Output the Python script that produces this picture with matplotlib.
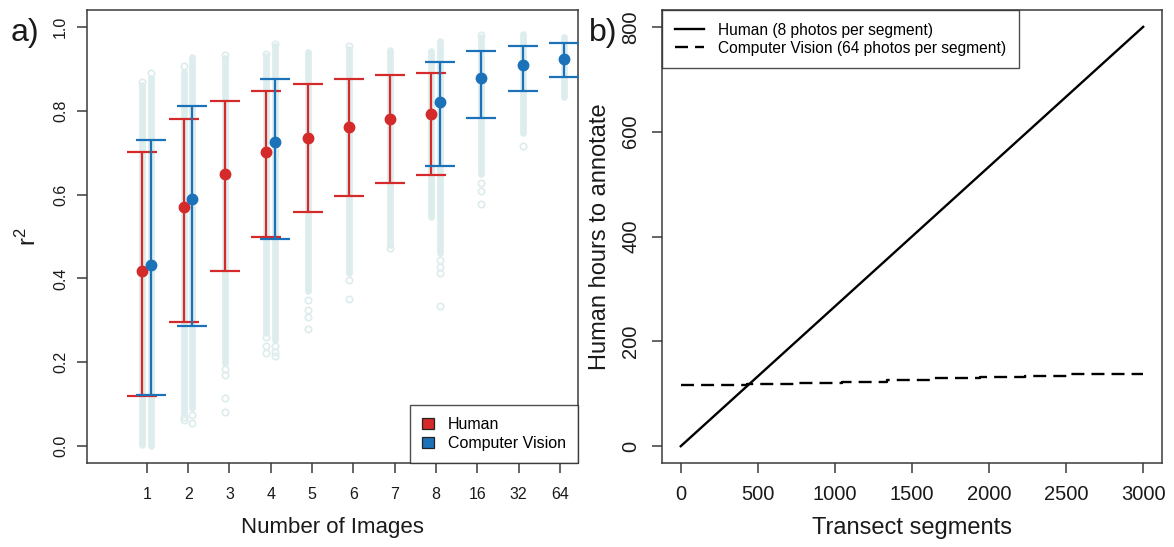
"""
Two-panel figure: r^2 vs number of images (a) and annotation effort (b).
"""

import numpy as np
import matplotlib.pyplot as plt
from matplotlib.patches import Patch
from matplotlib.lines import Line2D

plt.rcParams['font.family'] = ['Liberation Sans', 'DejaVu Sans']

# ==============================================================================
#  DATA
# ==============================================================================
x_labels = ['1', '2', '3', '4', '5', '6', '7', '8', '16', '32', '64']

# --- Human: mean r^2 and interval ---
human_pos = [1, 2, 3, 4, 5, 6, 7, 8]
human_mean = [0.418, 0.571, 0.650, 0.702, 0.736, 0.761, 0.781, 0.793]
human_lo = [0.119, 0.296, 0.418, 0.500, 0.558, 0.597, 0.628, 0.647]
human_hi = [0.701, 0.780, 0.822, 0.848, 0.864, 0.876, 0.885, 0.890]

# --- Computer vision: mean r^2 and interval ---
cv_pos = [1, 2, 4, 8, 9, 10, 11]
cv_mean = [0.432, 0.589, 0.726, 0.820, 0.877, 0.908, 0.924]
cv_lo = [0.123, 0.286, 0.495, 0.669, 0.782, 0.846, 0.880]
cv_hi = [0.730, 0.812, 0.875, 0.915, 0.942, 0.954, 0.961]

# --- background replicate clouds: dense range + isolated points ---
human_cloud_lo = [0.004, 0.079, 0.198, 0.270, 0.369, 0.412, 0.480, 0.547]
human_cloud_hi = [0.862, 0.892, 0.925, 0.930, 0.940, 0.948, 0.944, 0.942]
human_cloud_out = [
    [0.869],
    [0.063, 0.070, 0.907],
    [0.185, 0.170, 0.115, 0.081, 0.932],
    [0.261, 0.238, 0.222, 0.936],
    [0.349, 0.325, 0.309, 0.280],
    [0.396, 0.350, 0.954],
    [0.472],
    [],
]
cv_cloud_lo = [0.000, 0.091, 0.254, 0.460, 0.650, 0.746, 0.833]
cv_cloud_hi = [0.877, 0.927, 0.955, 0.966, 0.975, 0.984, 0.976]
cv_cloud_out = [
    [0.890],
    [0.075, 0.055],
    [0.240, 0.225, 0.214, 0.960],
    [0.444, 0.428, 0.412, 0.335],
    [0.627, 0.609, 0.577, 0.981],
    [0.716],
    [],
]

# --- panel b: hours to annotate vs transect segments ---
human_segments = [0, 3000]
human_hours = [0, 800]
cv_segments = [0, 430, 737, 1043, 1338, 1633, 1940, 2234, 2529, 3000]
cv_hours = [117.1, 119.1, 121.1, 123.1, 127.1, 129.8, 131.8, 134.4, 137.1, 137.1]

# ==============================================================================
#  STYLE
# ==============================================================================
RED = '#d42a2a'
BLUE = '#1b72b8'
CLOUD = '#ddecec'
AX_COL = '#3a3a3a'
TXT = '#1a1a1a'
H_OFF = -0.11
CV_OFF = 0.10


def style_axes(ax, tick_size, pad):
    for s in ax.spines.values():
        s.set_color(AX_COL)
        s.set_linewidth(1.1)
    ax.tick_params(direction='out', length=7.5, width=1.1, color=AX_COL,
                   labelsize=tick_size, labelcolor=TXT, pad=pad)
    ax.tick_params(axis='y', labelrotation=90)
    for t in ax.get_yticklabels():
        t.set_va('center')


fig = plt.figure(figsize=(11.74, 5.47), dpi=100)

# ------------------------------------------------------------------ panel a
ax1 = fig.add_axes([0.0744, 0.1536, 0.418, 0.828])

def draw_clouds(positions, offset, lows, highs, outs):
    for p, lo, hi, out in zip(positions, lows, highs, outs):
        ax1.plot([p + offset, p + offset], [lo, hi], color=CLOUD, lw=4.8,
                 solid_capstyle='round', zorder=1)
        if out:
            ax1.plot([p + offset] * len(out), out, 'o', ms=4.6, mfc='none',
                     mec=CLOUD, mew=1.2, zorder=1)

draw_clouds(human_pos, H_OFF, human_cloud_lo, human_cloud_hi, human_cloud_out)
draw_clouds(cv_pos, CV_OFF, cv_cloud_lo, cv_cloud_hi, cv_cloud_out)

hx = np.array(human_pos) + H_OFF
hm = np.array(human_mean)
ax1.errorbar(hx, hm, yerr=[hm - np.array(human_lo), np.array(human_hi) - hm],
             fmt='o', color=RED, ms=7.5, elinewidth=1.6, capsize=10.5,
             capthick=1.6, zorder=3)
cx = np.array(cv_pos) + CV_OFF
cm = np.array(cv_mean)
ax1.errorbar(cx, cm, yerr=[cm - np.array(cv_lo), np.array(cv_hi) - cm],
             fmt='o', color=BLUE, ms=7.5, elinewidth=1.6, capsize=10.5,
             capthick=1.6, zorder=4)

ax1.set_xlim(-0.44, 11.44)
ax1.set_ylim(-0.04, 1.04)
ax1.set_xticks(range(1, len(x_labels) + 1))
ax1.set_xticklabels(x_labels)
ax1.set_yticks(np.arange(0, 1.01, 0.2))
ax1.set_yticklabels(['0.0', '0.2', '0.4', '0.6', '0.8', '1.0'])
style_axes(ax1, 11.5, 6.5)
ax1.tick_params(axis='x', pad=9.5)
ax1.set_xlabel('Number of Images', fontsize=16, color=TXT, labelpad=11)
ax1.set_ylabel(r'$\mathregular{r^2}$', fontsize=17, color=TXT, labelpad=9)

leg1 = ax1.legend(
    handles=[Patch(facecolor=RED, edgecolor='#222222', lw=0.9, label='Human'),
             Patch(facecolor=BLUE, edgecolor='#222222', lw=0.9, label='Computer Vision')],
    loc='lower right', fontsize=11.5, frameon=True, fancybox=False,
    edgecolor='#222222', borderaxespad=0, borderpad=0.75, handlelength=0.75,
    handleheight=0.75, handletextpad=0.9, labelspacing=0.25)
leg1.get_frame().set_linewidth(1.0)

# ------------------------------------------------------------------ panel b
ax2 = fig.add_axes([0.5641, 0.1536, 0.4254, 0.828])
ax2.plot(human_segments, human_hours, color='black', lw=1.7)
ax2.plot(cv_segments, cv_hours, color='black', lw=1.7, drawstyle='steps-post',
         linestyle=(0, (5.5, 3)))
ax2.set_xlim(-120, 3120)
ax2.set_ylim(-32, 832)
ax2.set_xticks(range(0, 3001, 500))
ax2.set_yticks(range(0, 801, 200))
style_axes(ax2, 14.5, 8.5)
ax2.set_xlabel('Transect segments', fontsize=17, color=TXT, labelpad=9)
ax2.set_ylabel('Human hours to annotate', fontsize=17, color=TXT, labelpad=7)

leg2 = ax2.legend(
    handles=[Line2D([], [], color='black', lw=1.7,
                    label='Human (8 photos per segment)'),
             Line2D([], [], color='black', lw=1.7, linestyle=(0, (5.5, 3)),
                    label='Computer Vision (64 photos per segment)')],
    loc='upper left', fontsize=11.2, frameon=True, fancybox=False,
    edgecolor='#222222', borderaxespad=0, borderpad=0.8, handlelength=1.9,
    handletextpad=0.9, labelspacing=0.2)
leg2.get_frame().set_linewidth(1.0)

# panel letters
fig.text(11 / 1174, 1 - 41 / 547, 'a)', fontsize=23, color=TXT, va='baseline')
fig.text(589 / 1174, 1 - 41 / 547, 'b)', fontsize=23, color=TXT, va='baseline')

fig.savefig('out.png', dpi=100)
